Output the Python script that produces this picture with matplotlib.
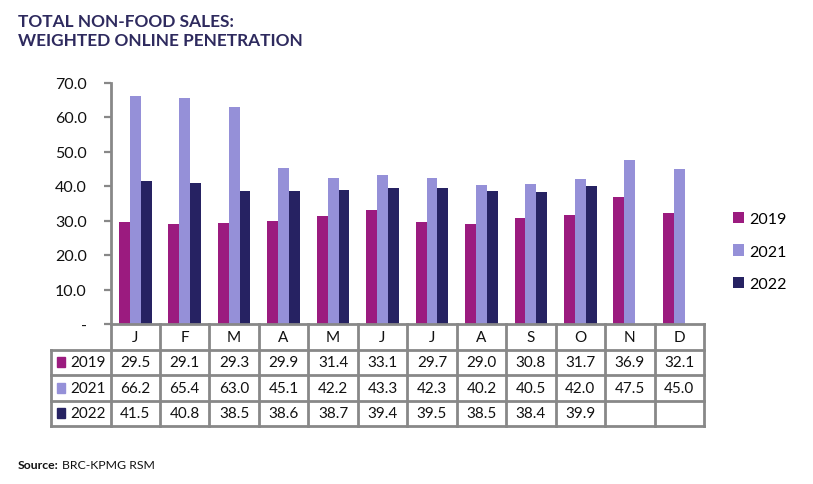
import matplotlib.pyplot as plt
from matplotlib.patches import Rectangle
import numpy as np

months = ['J', 'F', 'M', 'A', 'M', 'J', 'J', 'A', 'S', 'O', 'N', 'D']
series_names = ['2019', '2021', '2022']
sales_2019 = [29.5, 29.1, 29.3, 29.9, 31.4, 33.1, 29.7, 29.0, 30.8, 31.7, 36.9, 32.1]
sales_2021 = [66.2, 65.4, 63.0, 45.1, 42.2, 43.3, 42.3, 40.2, 40.5, 42.0, 47.5, 45.0]
sales_2022 = [41.5, 40.8, 38.5, 38.6, 38.7, 39.4, 39.5, 38.5, 38.4, 39.9, None, None]
yticks = [0, 10, 20, 30, 40, 50, 60, 70]

colors = ['#9b1b7f', '#9590d8', '#262262']
grid_col = '#888888'
title_col = '#2e2a5e'
plt.rcParams['font.family'] = ['Lato', 'DejaVu Sans']

W, H = 813, 485
fig = plt.figure(figsize=(W / 100, H / 100), dpi=100)


def px_axes(x0, y0, x1, y1):
    # pixel box (top-left origin) -> figure axes
    return fig.add_axes([x0 / W, 1 - y1 / H, (x1 - x0) / W, (y1 - y0) / H])


col_left, col_right = 110.5, 704
y_top, y_zero = 83.5, 325
ax = px_axes(col_left, y_top, col_right, y_zero)

data = [sales_2019, sales_2021, sales_2022]
bw = 0.22
x = np.arange(len(months)) + 0.5
for i, (vals, c) in enumerate(zip(data, colors)):
    xs = [xi + (i - 1) * bw for xi, v in zip(x, vals) if v is not None]
    vs = [v for v in vals if v is not None]
    ax.bar(xs, vs, width=bw, color=c, label=series_names[i])

ax.set_xlim(0, len(months))
ax.set_ylim(0, 70)
ax.set_yticks(yticks)
ax.set_yticklabels(['-' if t == 0 else '%.1f' % t for t in yticks], fontsize=11.5, color='#111111')
ax.tick_params(axis='y', direction='out', length=5, width=1.6, color=grid_col, pad=12)
ax.set_xticks([])
for s in ['top', 'right', 'bottom']:
    ax.spines[s].set_visible(False)
ax.spines['left'].set_color(grid_col)
ax.spines['left'].set_linewidth(2)

leg = ax.legend(loc='center left', bbox_to_anchor=(1.025, 0.30), frameon=False,
                fontsize=11.5, handlelength=0.7, handleheight=0.7, labelspacing=1.15,
                handletextpad=0.3)

# data table
lab_w = (col_right - col_left) / 12 * 1.2
tax = px_axes(col_left - lab_w, y_zero, col_right, 427)
tax.set_xlim(-1.2, 12)
tax.set_ylim(0, 4)
tax.axis('off')
lw = 2
tax.plot([0, 12], [4, 4], color=grid_col, lw=lw, clip_on=False, solid_capstyle='projecting')
for yy in [3, 2, 1, 0]:
    tax.plot([-1.2, 12], [yy, yy], color=grid_col, lw=lw, clip_on=False, solid_capstyle='projecting')
for xx in range(13):
    tax.plot([xx, xx], [0, 4], color=grid_col, lw=lw, clip_on=False, solid_capstyle='projecting')
tax.plot([-1.2, -1.2], [0, 3], color=grid_col, lw=lw, clip_on=False, solid_capstyle='projecting')

for j, m in enumerate(months):
    tax.text(j + 0.5, 3.5, m, ha='center', va='center', fontsize=11, color='#111111')
for i, (name, vals) in enumerate(zip(series_names, data)):
    yc = 2.5 - i
    tax.add_patch(Rectangle((-1.08, yc - 0.2), 0.17, 0.4, color=colors[i], clip_on=False))
    tax.text(-0.82, yc, name, ha='left', va='center', fontsize=11, color='#111111')
    for j, v in enumerate(vals):
        if v is not None:
            tax.text(j + 0.5, yc, '%.1f' % v, ha='center', va='center', fontsize=11, color='#111111')

fig.text(18 / W, 1 - 22 / H, 'TOTAL NON-FOOD SALES:', fontsize=12.4, fontweight='bold',
         color=title_col, va='center', ha='left')
fig.text(18 / W, 1 - 41 / H, 'WEIGHTED ONLINE PENETRATION', fontsize=12.4, fontweight='bold',
         color=title_col, va='center', ha='left')

src = fig.text(18 / W, 1 - 466 / H, 'Source:', fontsize=8.8, fontweight='bold', color='#111111',
               va='center', ha='left')
fig.canvas.draw()
bb = src.get_window_extent()
fig.text((bb.x1 + 3) / W, 1 - 466 / H, 'BRC-KPMG RSM', fontsize=8.8, color='#111111',
         va='center', ha='left')

plt.savefig('out.png', dpi=100)
plt.close()
